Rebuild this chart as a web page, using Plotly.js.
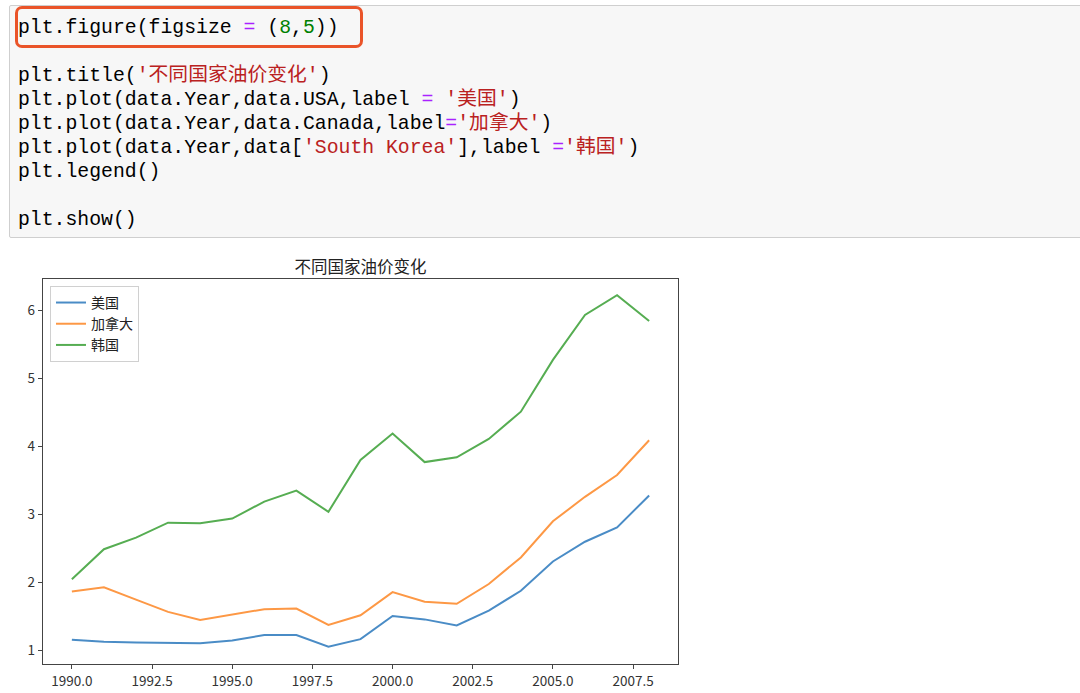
<!DOCTYPE html>
<html>
<head>
<meta charset="utf-8">
<script src="https://cdn.plot.ly/plotly-3.0.1.min.js"></script>
<style>
  html, body { margin: 0; padding: 0; background: #fff; width: 1080px; height: 693px; overflow: hidden; }
  #plot { position: absolute; left: 0; top: 0; width: 1080px; height: 693px; }
  #code {
    position: absolute; left: 9px; top: 5px; width: 1090px; height: 233px;
    background: #f7f7f7; border: 1px solid #cfcfcf; border-radius: 2px; box-sizing: border-box;
    z-index: 5;
  }
  #lines {
    position: absolute; left: 8px; top: 10px;
    font-family: "Liberation Mono", "DejaVu Sans Mono", "Noto Sans CJK SC", monospace;
    font-size: 19.8px; line-height: 24px; color: #000;
  }
  #lines div { height: 24px; white-space: pre; }
  .op { color: #aa22ff; }
  .num { color: #008000; }
  .str { color: #ba2121; }
  #hl {
    position: absolute; left: 15px; top: 6px; width: 348px; height: 42px;
    border: 3px solid #ea5429; border-radius: 7px; box-sizing: border-box; z-index: 6;
  }
</style>
</head>
<body>
<div id="plot"></div>
<div id="code"><div id="lines">
<div>plt.figure(figsize <span class="op">=</span> (<span class="num">8</span>,<span class="num">5</span>))</div>
<div></div>
<div>plt.title(<span class="str">'不同国家油价变化'</span>)</div>
<div>plt.plot(data.Year,data.USA,label <span class="op">=</span> <span class="str">'美国'</span>)</div>
<div>plt.plot(data.Year,data.Canada,label<span class="op">=</span><span class="str">'加拿大'</span>)</div>
<div>plt.plot(data.Year,data[<span class="str">'South Korea'</span>],label <span class="op">=</span><span class="str">'韩国'</span>)</div>
<div>plt.legend()</div>
<div></div>
<div>plt.show()</div>
</div></div>
<div id="hl"></div>
<script>
const years = [1990,1991,1992,1993,1994,1995,1996,1997,1998,1999,2000,2001,2002,2003,2004,2005,2006,2007,2008];
const usa = [1.16,1.13,1.12,1.11,1.11,1.15,1.23,1.23,1.06,1.17,1.51,1.46,1.37,1.59,1.88,2.31,2.60,2.81,3.28];
const canada = [1.87,1.93,1.75,1.57,1.45,1.53,1.61,1.62,1.38,1.52,1.86,1.72,1.69,1.98,2.37,2.90,3.26,3.58,4.09];
const korea = [2.05,2.49,2.66,2.88,2.87,2.94,3.19,3.35,3.04,3.80,4.19,3.77,3.84,4.11,4.51,5.27,5.93,6.22,5.84];
const seriesNames = ['美国','加拿大','韩国'];
const seriesColors = ['#4a8cc6','#fd9845','#56ad52'];
const xTickVals = [1990,1992.5,1995,1997.5,2000,2002.5,2005,2007.5];
const xTickText = ['1990.0','1992.5','1995.0','1997.5','2000.0','2002.5','2005.0','2007.5'];
const yTickVals = [1,2,3,4,5,6];
const titleText = '不同国家油价变化';

const font = '"Noto Sans CJK SC", "Noto Sans", sans-serif';
const seriesData = [usa, canada, korea];
const traces = seriesData.map((ys, i) => ({
  x: years, y: ys, type: 'scatter', mode: 'lines', name: seriesNames[i],
  line: { color: seriesColors[i], width: 2 }
}));

const layout = {
  width: 1080, height: 693, autosize: false,
  margin: { l: 43, r: 402, t: 279, b: 29, pad: 0 },
  paper_bgcolor: 'rgba(0,0,0,0)', plot_bgcolor: '#fff',
  font: { family: font, color: '#333', size: 13 },
  title: { text: titleText, x: 360.5 / 1080, xanchor: 'center', y: 1 - 267 / 693, yanchor: 'middle',
           font: { family: font, size: 16.5, color: '#222' } },
  showlegend: true,
  legend: { x: 0.011, y: 0.982, xanchor: 'left', yanchor: 'top', bgcolor: '#fff',
            bordercolor: '#d0d0d0', borderwidth: 1, font: { family: font, size: 14, color: '#222' },
            tracegroupgap: 0 },
  xaxis: { range: [1989.1, 2008.9], tickmode: 'array', tickvals: xTickVals, ticktext: xTickText,
           showgrid: false, zeroline: false, showline: true, mirror: true, linecolor: '#444', linewidth: 1.3,
           ticks: 'outside', ticklen: 4, tickcolor: '#444', tickwidth: 1,
           tickfont: { family: font, size: 13.5, color: '#333' } },
  yaxis: { range: [0.805, 6.458], tickmode: 'array', tickvals: yTickVals, ticktext: yTickVals.map(String),
           showgrid: false, zeroline: false, showline: true, mirror: true, linecolor: '#444', linewidth: 1.3,
           ticks: 'outside', ticklen: 4, tickcolor: '#444', tickwidth: 1,
           tickfont: { family: font, size: 13.5, color: '#333' } }
};

Plotly.newPlot('plot', traces, layout, { staticPlot: true, displayModeBar: false });
</script>
</body>
</html>
